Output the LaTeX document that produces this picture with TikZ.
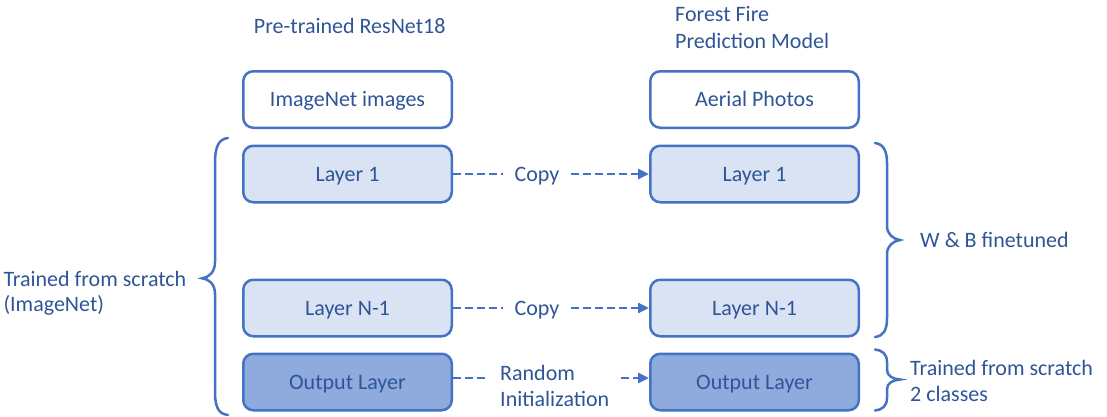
\documentclass[tikz,border=0pt]{standalone}
\usepackage{fontspec}
\setmainfont{Carlito}
\usetikzlibrary{arrows.meta}
\definecolor{txt}{HTML}{2F5597}
\definecolor{edge}{HTML}{4472C4}
\definecolor{lightf}{HTML}{DAE3F3}
\definecolor{darkf}{HTML}{8FAADC}
\begin{document}
\begin{tikzpicture}[x=1pt,y=-1pt,
  every node/.style={font=\fontsize{22}{26}\selectfont, text=txt},
  layerbox/.style={draw=edge, line width=2.5pt, rounded corners=10pt,
    minimum width=208.5pt, minimum height=56.5pt, inner sep=0pt,
    text height=14.2pt, text depth=0pt},
  plainbox/.style={layerbox, fill=white},
  lightbox/.style={layerbox, fill=lightf},
  darkbox/.style={layerbox, fill=darkf},
  link/.style={draw=edge, line width=2.7pt, dash pattern=on 8pt off 4pt},
  linkarrow/.style={link, -{Triangle[length=11pt,width=10pt]}},
  bracepath/.style={draw=edge, line width=2.5pt, line cap=round},
  lbl/.style={inner sep=0pt, align=left},
  midlbl/.style={inner ysep=0pt, inner xsep=11.5pt, text height=14.2pt, text depth=0pt}
]
\useasboundingbox (0,0) rectangle (1107,416);

% titles
\node[lbl, anchor=base] (t1) at (349.7,33) {Pre-trained ResNet18};
\node[lbl, anchor=base west, font=\fontsize{22}{26.6}\selectfont] (t2) at (675,48.3) {Forest Fire\\Prediction Model};

% left column
\node[plainbox] (inL) at (347.5,99.5) {ImageNet images};
\node[lightbox] (l1L) at (347.5,174) {Layer 1};
\node[lightbox] (lnL) at (347.5,308) {Layer N-1};
\node[darkbox]  (loL) at (347.5,382) {Output Layer};

% right column
\node[plainbox] (inR) at (754.5,99.5) {Aerial Photos};
\node[lightbox] (l1R) at (754.5,174) {Layer 1};
\node[lightbox] (lnR) at (754.5,308) {Layer N-1};
\node[darkbox]  (loR) at (754.5,382) {Output Layer};

% connectors
\node[midlbl] (c1) at (537,174) {Copy};
\draw[link] (l1L.east) -- (c1.west);
\draw[linkarrow] (c1.east) -- (l1R.west);

\node[midlbl] (c2) at (537,308) {Copy};
\draw[link] (lnL.east) -- (c2.west);
\draw[linkarrow] (c2.east) -- (lnR.west);

\node[lbl, inner xsep=11.5pt, anchor=base west] (ri) at (488.5,406) {Random\\Initialization};
\draw[link] ([yshift=4pt]loL.east) -- ([yshift=4pt]loL.east -| ri.west);
\draw[linkarrow] ([yshift=4pt]loR.west -| ri.east) -- ([yshift=4pt]loR.west);

% braces
\draw[bracepath] (228,138) .. controls (219,139) and (215,146) .. (215,163)
  -- (215,262) .. controls (215,272) and (209,277.5) .. (202,278.3)
  .. controls (209,279) and (215,284) .. (215,294)
  -- (215,392) .. controls (215,408) and (219,414) .. (228,415);
\draw[bracepath] (875,143) .. controls (883,144) and (887,150) .. (887,163)
  -- (887,226) .. controls (887,234) and (893,239) .. (900,240)
  .. controls (893,241) and (887,246) .. (887,254)
  -- (887,318) .. controls (887,331) and (883,336) .. (875,337);
\draw[bracepath] (875,349.5) .. controls (882,350) and (887,354) .. (887,362)
  -- (887,370) .. controls (887,376) and (893,379) .. (900,379.5)
  .. controls (893,380) and (887,383) .. (887,389)
  -- (887,398) .. controls (887,406) and (882,410) .. (875,410.5);

% side labels
\node[lbl, anchor=base west, font=\fontsize{22}{25}\selectfont] (lt) at (3.3,311.7) {Trained from scratch\\(ImageNet)};
\node[lbl, anchor=base west] (wb) at (920,247.3) {W \& B finetuned};
\node[lbl, anchor=base west] (rt) at (910,401.7) {Trained from scratch\\2 classes};
\end{tikzpicture}
\end{document}
